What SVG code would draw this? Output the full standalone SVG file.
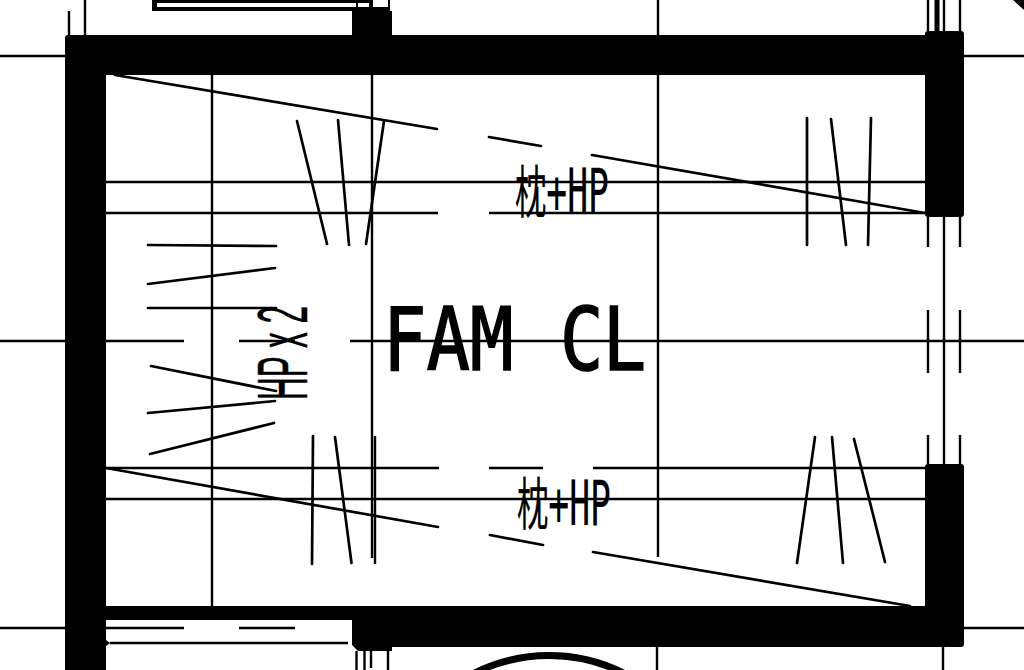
<svg xmlns="http://www.w3.org/2000/svg" width="1024" height="670" viewBox="0 0 1024 670">
<style>
.l{stroke:#000;stroke-width:2.4;fill:none}
.t{stroke:#000;stroke-width:2.7;fill:none;stroke-linecap:round}
.w{fill:#000}
text{fill:#000;stroke:#000}
.m{font-family:"DejaVu Sans Mono","Noto Sans CJK JP",monospace}
.s{font-family:"Liberation Sans","Noto Sans CJK JP",sans-serif}
.j{font-family:"Noto Sans CJK JP","Noto Sans CJK SC",sans-serif;font-size:57px}
.h{font-family:"DejaVu Sans Mono",monospace;font-size:63px}
</style>
<rect width="1024" height="670" fill="#fff"/>
<g id="grid" class="l">
<path d="M0 56H65M964 56H1024M0 341H184M239 341H295M350 341H1024"/>
<path d="M85 0V35M69 11V35M212 75V606M372 75V558M658 0V35M658 75V557M375 436V564"/>
<path d="M106 182H925M106 213H438M489 213H925M106 468H439M489 468H543M593 468H925M106 499H925"/>
<path d="M928 0V31M944 0V31M960 0V31M928 217V247M944 217V464M960 217V247M928 310V373M960 310V373M928 435V464M960 435V464"/>
<path d="M657 647V670M943 647V670M356.500 651V670M364.500 651V670M371 651V668M388 651V670M356 3V7"/>
<path d="M106 628H184M239 628H295M110 643H348"/>
<path d="M0 628H65M964 628H1024"/>
<path d="M937 0V31" stroke-width="5"/>
</g>
<g id="slopes" class="t">
<path d="M115 75L437 129M489 137L541 146M592 155L925 213"/>
<path d="M106 468L438 527M490 535L543 545M593 552L910 606"/>
<path d="M297 121L327 244M338 120L349 245M384 121L366 244"/>
<path d="M807 118V245M831 119L846 245M871 118L868 245"/>
<path d="M148 245L276 246M148 284L275 268M148 308H276M151 366L276 391M148 413L275 401M150 454L274 423"/>
<path d="M313 436L312 564M335 437L351.500 563"/>
<path d="M815 437L797 563M832 437L843 563M854 439L885 562"/>
</g>
<g id="walls">
<path class="w" d="M65 38Q65 35 68 35H352V11H392V35H925V34Q925 31 928 31H961Q964 31 964 34V214Q964 217 961 217H928Q925 217 925 214V75H106V606H925V467Q925 464 928 464H961Q964 464 964 467V644Q964 647 961 647H392V651H358L352 645V620H106V640L110 643L106 646V670H65Z"/>
<path class="w" d="M152 0H390V11H152Z"/>
<rect x="157" y="3" width="212" height="4" fill="#fff"/>
<rect x="356" y="3" width="2" height="4" fill="#000"/>
<rect x="373" y="0" width="15" height="7" fill="#fff"/>
<path d="M469 676A167 167 0 0 1 629 676" fill="none" stroke="#000" stroke-width="7"/>
<path class="w" d="M1013 0H1024V10Z"/>
</g>
<g id="labels">
<text x="0" y="0" stroke-width=".2" transform="translate(515 213) scale(.55 1)"><tspan class="j">枕</tspan><tspan class="h">+HP</tspan></text>
<text x="0" y="0" stroke-width=".2" transform="translate(517 525) scale(.55 1)"><tspan class="j">枕</tspan><tspan class="h">+HP</tspan></text>
<text class="m" x="0" y="0" font-size="88" stroke-width="1.6" transform="translate(383 370) scale(.82 1)">FAM <tspan dx="4">C</tspan><tspan dx="-1">L</tspan></text>
<text class="s" x="0" y="0" font-size="70" stroke-width=".4" transform="translate(307 400) rotate(-90) scale(.45 1)">HP x 2</text>
</g>
</svg>
